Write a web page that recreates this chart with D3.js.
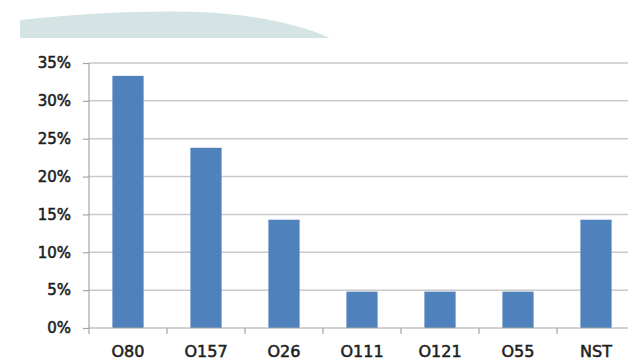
<!DOCTYPE html>
<html>
<head>
<meta charset="utf-8">
<script src="https://cdn.jsdelivr.net/npm/d3@7"></script>
<style>
  html, body { margin: 0; padding: 0; background: #ffffff; }
  svg { display: block; }
  .lbl { font-family: "DejaVu Sans", sans-serif; fill: #1e1e1e; stroke: #1e1e1e; stroke-width: 0.55px; }
</style>
</head>
<body>
<svg id="chart" width="628" height="361"></svg>
<script>
// Serogroup shares (percent)
const categories = ["O80", "O157", "O26", "O111", "O121", "O55", "NST"];
const shares = [33.3, 23.8, 14.3, 4.8, 4.8, 4.8, 14.3];
const yTicks = [0, 5, 10, 15, 20, 25, 30, 35];

const svg = d3.select("#chart");
const W = 628, H = 361;
const margin = { left: 89, top: 63, bottom: 33 };
const plotRight = 635;

// Decorative swoosh banner at the top
svg.append("path")
  .attr("d", "M20,38 L20,20 C80,13 150,10 200,12 C250,14 300,24 330,38 Z")
  .attr("fill", "#d4e3e4");

const x = d3.scaleBand()
  .domain(categories)
  .range([margin.left, plotRight])
  .paddingInner(0.6)
  .paddingOuter(0.3);

const y = d3.scaleLinear()
  .domain([0, 35])
  .range([H - margin.bottom, margin.top]);

// Horizontal gridlines
svg.append("g")
  .selectAll("line")
  .data(yTicks.filter(d => d > 0))
  .join("line")
  .attr("x1", margin.left)
  .attr("x2", plotRight)
  .attr("y1", d => y(d))
  .attr("y2", d => y(d))
  .attr("stroke", "#c9c9c9")
  .attr("stroke-width", 1.5);

// Bars
svg.append("g")
  .selectAll("rect")
  .data(categories)
  .join("rect")
  .attr("x", d => x(d))
  .attr("width", x.bandwidth())
  .attr("y", (d, i) => y(shares[i]))
  .attr("height", (d, i) => y(0) - y(shares[i]))
  .attr("fill", "#4f81bd");

// Y axis
const yAxis = svg.append("g")
  .attr("transform", `translate(${margin.left},0)`)
  .call(d3.axisLeft(y).tickValues(yTicks).tickFormat(d => d + "%").tickSize(6).tickPadding(12));
yAxis.selectAll("line, path").attr("stroke", "#a6a6a6").attr("stroke-width", 1.2);
yAxis.select(".domain").attr("d", `M0,${y(35)}V${y(0)}`);
yAxis.selectAll("text")
  .attr("class", "lbl")
  .attr("font-size", 15)
  .attr("fill", null);

// X axis with category separators
const xAxis = svg.append("g")
  .attr("transform", `translate(0,${y(0)})`);
xAxis.append("line")
  .attr("x1", margin.left).attr("x2", plotRight)
  .attr("stroke", "#a6a6a6").attr("stroke-width", 1.2);
const step = x.step();
xAxis.selectAll("line.sep")
  .data(d3.range(categories.length + 1))
  .join("line")
  .attr("class", "sep")
  .attr("x1", i => margin.left + i * step)
  .attr("x2", i => margin.left + i * step)
  .attr("y1", 0).attr("y2", 6)
  .attr("stroke", "#a6a6a6").attr("stroke-width", 1.2);
xAxis.selectAll("text")
  .data(categories)
  .join("text")
  .attr("class", "lbl")
  .attr("x", d => x(d) + x.bandwidth() / 2)
  .attr("y", 29)
  .attr("text-anchor", "middle")
  .attr("font-size", 16)
  .text(d => d);
</script>
</body>
</html>
